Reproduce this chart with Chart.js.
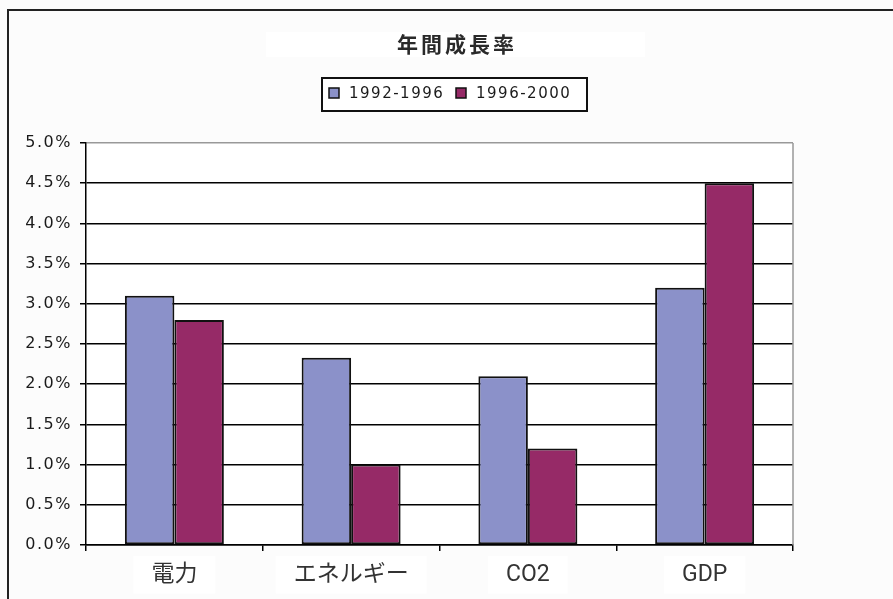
<!DOCTYPE html>
<html>
<head>
<meta charset="utf-8">
<script src="https://cdn.jsdelivr.net/npm/chart.js@4/dist/chart.umd.min.js"></script>
<style>
  html, body { margin: 0; padding: 0; background: #fcfcfc; }
  canvas { display: block; }
</style>
</head>
<body>
<canvas id="growth" width="893" height="599"></canvas>
<script>
// データ
var categories = ['電力', 'エネルギー', 'CO2', 'GDP'];
var seriesNames = ['1992-1996', '1996-2000'];
var values9296 = [3.1, 2.33, 2.1, 3.2];
var values9600 = [2.8, 1.0, 1.2, 4.5];
var seriesColors = ['#8b91c9', '#962a67'];
var yMin = 0, yMax = 5, yStep = 0.5;
var titleText = '年間成長率';

// 背景・枠・タイトル・凡例・Y軸ラベル
var decor = {
  id: 'decor',
  beforeDraw: function (chart) {
    var ctx = chart.ctx, a = chart.chartArea;
    ctx.save();
    ctx.fillStyle = '#fcfcfc';
    ctx.fillRect(0, 0, chart.width, chart.height);
    ctx.fillStyle = '#ffffff';
    ctx.fillRect(a.left, a.top, a.right - a.left, a.bottom - a.top);
    ctx.fillRect(266, 32, 379, 25);
    ctx.strokeStyle = '#222';
    ctx.lineWidth = 2;
    ctx.strokeRect(8, 10, chart.width + 20, chart.height + 20);
    ctx.restore();
  },
  afterDraw: function (chart) {
    var ctx = chart.ctx, a = chart.chartArea;
    ctx.save();

    // plot right border
    ctx.strokeStyle = '#999';
    ctx.lineWidth = 1.5;
    ctx.beginPath();
    ctx.moveTo(a.right, a.top);
    ctx.lineTo(a.right, a.bottom);
    ctx.stroke();

    // title
    ctx.fillStyle = '#2a2a2a';
    ctx.font = 'bold 21px "Noto Sans CJK JP"';
    ctx.letterSpacing = '3px';
    ctx.textAlign = 'center';
    ctx.textBaseline = 'middle';
    ctx.fillText(titleText, 457, 44);

    // legend
    ctx.fillStyle = '#fff';
    ctx.fillRect(322, 78, 265, 33);
    ctx.strokeStyle = '#111';
    ctx.lineWidth = 2;
    ctx.strokeRect(322, 78, 265, 33);
    ctx.font = '15px "DejaVu Sans"';
    ctx.letterSpacing = '1.5px';
    ctx.textAlign = 'left';
    var lx = [329, 456];
    chart.data.datasets.forEach(function (ds, i) {
      ctx.fillStyle = ds.backgroundColor;
      ctx.fillRect(lx[i], 88, 10, 10);
      ctx.strokeStyle = '#111';
      ctx.lineWidth = 1.5;
      ctx.strokeRect(lx[i], 88, 10, 10);
      ctx.fillStyle = '#1a1a1a';
      ctx.fillText(ds.label, lx[i] + 20, 94);
    });

    // y tick labels
    var y = chart.scales.y;
    ctx.font = '16px "DejaVu Sans"';
    ctx.letterSpacing = '1.5px';
    ctx.textAlign = 'right';
    ctx.fillStyle = '#1a1a1a';
    y.ticks.forEach(function (t) {
      ctx.fillText(t.value.toFixed(1) + '%', 72, y.getPixelForValue(t.value));
    });
    ctx.restore();
  }
};

new Chart(document.getElementById('growth').getContext('2d'), {
  type: 'bar',
  data: {
    labels: categories,
    datasets: [{
      label: seriesNames[0],
      data: values9296,
      backgroundColor: seriesColors[0],
      borderColor: '#111',
      borderWidth: 2,
      borderSkipped: false
    }, {
      label: seriesNames[1],
      data: values9600,
      backgroundColor: seriesColors[1],
      borderColor: '#111',
      borderWidth: 2,
      borderSkipped: false
    }]
  },
  options: {
    responsive: false,
    animation: false,
    devicePixelRatio: 1,
    layout: { padding: { left: 0, top: 143, right: 100, bottom: 0 } },
    datasets: { bar: { barPercentage: 1, categoryPercentage: 0.56 } },
    plugins: {
      legend: { display: false },
      title: { display: false },
      tooltip: { enabled: false }
    },
    scales: {
      x: {
        grid: { offset: true, drawOnChartArea: false, drawTicks: true, tickLength: 6, tickColor: '#000', lineWidth: 1.5 },
        border: { color: '#000', width: 1.5 },
        ticks: {
          font: { family: 'Roboto, "Noto Sans CJK JP"', size: 23 },
          color: '#333',
          padding: 10,
          maxRotation: 0,
          showLabelBackdrop: true,
          backdropColor: '#fff',
          backdropPadding: { x: 18, y: 5 }
        },
        afterFit: function (s) { s.height = 54; }
      },
      y: {
        min: yMin,
        max: yMax,
        ticks: { stepSize: yStep, display: false },
        grid: {
          color: function (c) { return c.tick && c.tick.value === yMax ? '#999' : '#000'; },
          tickColor: '#000',
          tickLength: 6,
          lineWidth: 1.5
        },
        border: { color: '#000', width: 1.5 },
        afterFit: function (s) { s.width = 86; }
      }
    }
  },
  plugins: [decor]
});
</script>
</body>
</html>
